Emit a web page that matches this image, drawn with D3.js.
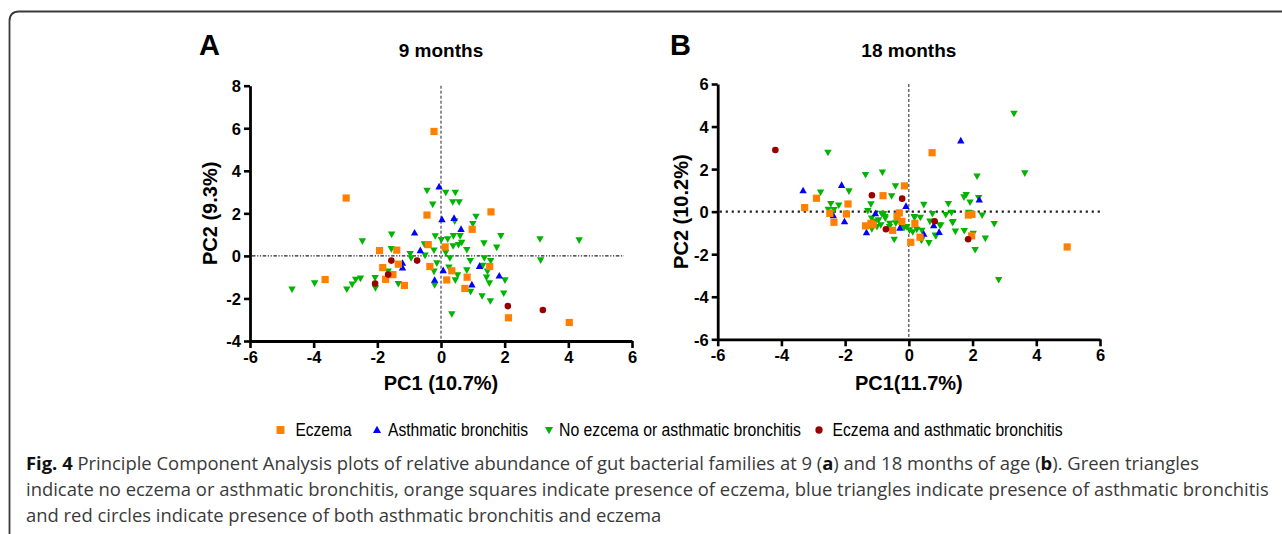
<!DOCTYPE html>
<html><head><meta charset="utf-8">
<script src="https://cdn.jsdelivr.net/npm/d3@7"></script>
<style>
html,body{margin:0;padding:0;background:#fff;}
svg{display:block;}
</style></head>
<body>
<svg id="chart" width="1282" height="534"></svg>
<script>
// ---------- DATA ----------
const seriesNames = ["Eczema", "Asthmatic bronchitis", "No ezcema or asthmatic bronchitis", "Eczema and asthmatic bronchitis"];
const xTicks = [-6, -4, -2, 0, 2, 4, 6];
const yTicksA = [-4, -2, 0, 2, 4, 6, 8];
const yTicksB = [-6, -4, -2, 0, 2, 4, 6];

// Panel A: 9 months  [PC1, PC2]
const eczema9 = [[-0.22,5.85],[-2.98,2.72],[-0.44,1.92],[1.57,2.07],[0.98,1.25],[-0.40,0.53],[0.13,0.42],[-1.93,0.25],[-1.39,0.27],[-1.83,-0.55],[-1.34,-0.39],[-0.35,-0.50],[1.53,-0.50],[0.34,-0.70],[-1.51,-0.88],[-1.74,-1.10],[-3.64,-1.11],[-1.15,-1.39],[0.18,-1.13],[0.82,-1.00],[0.75,-1.53],[2.12,-2.91],[4.03,-3.13]];
const asthma9 = [[-0.06,3.25],[0.03,1.71],[0.41,1.77],[0.63,1.25],[-0.83,1.08],[-0.65,0.25],[-1.21,-0.34],[-1.21,-0.56],[0.07,-0.69],[-0.20,-1.14],[1.21,-0.49],[1.83,-0.94],[0.97,-1.36]];
const none9 = [[-0.44,3.08],[0.15,2.99],[0.45,2.99],[0.37,2.54],[0.57,2.54],[-0.26,2.43],[0.43,1.64],[1.10,1.86],[1.00,1.52],[-1.55,1.02],[-2.47,0.70],[-0.18,0.94],[0.01,0.77],[0.21,0.80],[0.39,0.95],[0.60,0.95],[0.65,0.64],[0.55,0.53],[0.38,0.47],[1.35,0.61],[1.88,0.95],[1.75,0.41],[0.81,0.30],[3.11,0.80],[4.34,0.75],[-1.56,0.34],[-0.97,0.11],[-0.94,-0.09],[-0.50,0.03],[-0.22,0.27],[-0.52,0.56],[0.15,0.17],[0.28,-0.09],[-0.13,-0.33],[0.92,-0.22],[1.36,-0.09],[1.56,-0.22],[3.13,-0.19],[0.25,-0.53],[0.81,-0.66],[1.31,-0.45],[1.46,-0.72],[-1.66,-0.72],[-0.22,-0.72],[0.52,-0.89],[0.45,-1.13],[1.43,-1.00],[1.52,-1.27],[2.01,-1.13],[-2.07,-1.02],[-2.53,-1.05],[-2.68,-1.10],[-2.79,-1.33],[-2.96,-1.56],[-3.97,-1.27],[-4.68,-1.56],[-2.06,-1.50],[-1.34,-1.30],[-0.20,-1.36],[0.93,-1.67],[1.29,-1.88],[1.55,-2.11],[1.97,-1.75],[0.34,-2.72]];
const both9 = [[-1.56,-0.22],[-0.75,-0.22],[-1.66,-0.88],[-2.07,-1.30],[2.10,-2.36],[3.20,-2.54]];

// Panel B: 18 months  [PC1, PC2]
const eczema18 = [[-3.27,0.19],[-2.90,0.63],[-2.48,-0.08],[-2.35,-0.50],[-1.91,0.36],[-1.96,-0.11],[-0.81,0.75],[-0.14,1.21],[-1.36,-0.67],[-1.19,-0.55],[-1.12,-0.62],[-0.51,-0.88],[-0.30,-0.06],[-0.37,-0.23],[-0.22,-0.46],[0.06,-1.44],[0.19,-0.55],[0.35,-1.20],[0.73,2.77],[1.87,-0.16],[1.98,-0.13],[1.97,-1.14],[4.97,-1.66]];
const asthma18 = [[-3.32,0.99],[-2.11,1.24],[-2.37,-0.19],[-2.02,-0.47],[-1.33,-0.99],[-1.05,-0.09],[-0.09,0.25],[-0.28,-0.77],[0.47,-1.06],[0.78,-0.66],[0.95,-0.97],[1.63,3.33],[2.21,0.55]];
const none18 = [[-2.54,2.79],[-1.36,1.74],[-0.83,1.86],[-0.42,1.21],[-0.54,0.74],[-2.77,0.92],[-1.88,0.97],[-2.45,0.38],[-2.20,0.31],[-2.35,0.09],[-2.53,0.11],[-1.19,0.36],[-1.29,0.05],[-1.17,-0.30],[-0.95,-0.39],[-0.79,-0.09],[-0.74,-0.30],[-1.00,-0.70],[-1.16,-0.81],[-0.61,-0.70],[-0.46,-1.30],[-0.41,-0.53],[-0.07,-0.70],[0.02,-0.86],[0.18,-0.27],[0.36,-0.27],[0.47,0.34],[0.25,-0.83],[0.41,-0.88],[0.38,-1.30],[0.63,-1.46],[0.66,-0.45],[0.74,-0.09],[0.83,-1.10],[1.00,-0.63],[1.16,-0.14],[1.24,0.38],[1.34,-0.03],[1.37,-0.50],[1.46,-0.92],[1.73,0.69],[1.80,0.80],[1.92,0.45],[1.88,-0.03],[1.74,-0.89],[2.02,-1.02],[2.08,-1.78],[2.14,1.67],[2.19,0.66],[2.30,-0.16],[2.40,-1.25],[2.68,-0.56],[2.82,-3.19],[3.30,4.62],[3.64,1.82],[-1.05,-0.45],[-0.88,-0.62],[-0.60,-0.55],[-0.25,-0.55],[-0.15,-0.75],[0.12,-0.95],[-0.86,-0.08],[-0.75,-0.23],[0.17,-0.23],[0.85,-1.14],[0.40,-1.33],[1.39,-0.47],[0.97,-0.62]];
const both18 = [[-4.19,2.90],[-1.16,0.77],[-0.21,0.61],[-0.72,-0.83],[0.81,-0.45],[1.86,-1.30]];

// ---------- STYLE / LAYOUT ----------
const colors = {eczema:"#ff8000", asthma:"#0000ff", none:"#00b400", both:"#990000"};
const svg = d3.select("#chart");
const BOLD = "'Liberation Sans', Arial, sans-serif";

// frame
svg.append("path")
  .attr("d", "M9.5,534 V21 Q9.5,11.5 19,11.5 H1282")
  .attr("fill","none").attr("stroke","#3a3a3a").attr("stroke-width",1.8);

const panels = [
  {letter:"A", title:"9 months", xlab:"PC1 (10.7%)", ylab:"PC2 (9.3%)",
   left:250, right:632, top:85.7, bottom:341, ydom:[-4,8], yticks:yTicksA,
   hStyle:{dash:"3.5,1.6,1.2,1.6,1.2,1.6", w:1.1}, hRight:624,
   data:{eczema:eczema9, asthma:asthma9, none:none9, both:both9},
   letterX:199, ylabX:217},
  {letter:"B", title:"18 months", xlab:"PC1(11.7%)", ylab:"PC2 (10.2%)",
   left:717.7, right:1100, top:84, bottom:339.3, ydom:[-6,6], yticks:yTicksB,
   hStyle:{dash:"2.2,3.8", w:2.3}, hRight:1100,
   data:{eczema:eczema18, asthma:asthma18, none:none18, both:both18},
   letterX:670, ylabX:688}
];

function triPath(up, w, h){
  return up ? `M0,${-h*0.6}L${w/2},${h*0.4}L${-w/2},${h*0.4}Z`
            : `M0,${h*0.6}L${w/2},${-h*0.4}L${-w/2},${-h*0.4}Z`;
}
function drawMarker(g, type, x, y, scale){
  const s = scale || 1;
  if(type==="eczema"){
    g.append("rect").attr("x",x-3.6*s).attr("y",y-3.6*s).attr("width",7.2*s).attr("height",7.2*s).attr("fill",colors.eczema);
  } else if(type==="asthma"){
    g.append("path").attr("d",triPath(true,7.4*s,6.6*s)).attr("transform",`translate(${x},${y})`).attr("fill",colors.asthma);
  } else if(type==="none"){
    g.append("path").attr("d",triPath(false,7.4*s,6.6*s)).attr("transform",`translate(${x},${y})`).attr("fill",colors.none);
  } else {
    g.append("circle").attr("cx",x).attr("cy",y).attr("r",3.3*s).attr("fill",colors.both);
  }
}

panels.forEach(p=>{
  const x = d3.scaleLinear().domain([-6,6]).range([p.left,p.right]);
  const y = d3.scaleLinear().domain(p.ydom).range([p.bottom,p.top]);
  const g = svg.append("g");

  // reference lines
  g.append("line").attr("x1",x(0)).attr("x2",x(0)).attr("y1",y(p.ydom[1])).attr("y2",p.bottom)
    .attr("stroke","#222").attr("stroke-width",1).attr("stroke-dasharray","3,2");
  g.append("line").attr("x1",p.left+2).attr("x2",p.hRight).attr("y1",y(0)).attr("y2",y(0))
    .attr("stroke","#222").attr("stroke-width",p.hStyle.w).attr("stroke-dasharray",p.hStyle.dash);

  // points
  const order = ["none","asthma","eczema","both"];
  const pg = g.append("g");
  order.forEach(k=>{
    p.data[k].forEach(d=> drawMarker(pg, k, x(d[0]), y(d[1])));
  });

  // axes
  const fmt = d => String(d);
  const xa = g.append("g").attr("transform",`translate(0,${p.bottom})`)
    .call(d3.axisBottom(x).tickValues(xTicks).tickFormat(fmt).tickSize(7).tickSizeOuter(0).tickPadding(3));
  const ya = g.append("g").attr("transform",`translate(${p.left},0)`)
    .call(d3.axisLeft(y).tickValues(p.yticks).tickFormat(fmt).tickSize(6).tickSizeOuter(0).tickPadding(3));
  [xa,ya].forEach(a=>{
    a.select(".domain").attr("stroke","#000").attr("stroke-width",2.8);
    a.selectAll(".tick line").attr("stroke","#000").attr("stroke-width",2.6);
    a.selectAll(".tick text").attr("fill","#000").style("font-family",BOLD).style("font-weight","bold").style("font-size","16.5px");
  });
  ya.selectAll(".tick text").attr("dy","0.36em");

  // texts
  g.append("text").attr("x",p.letterX).attr("y",55).text(p.letter)
    .style("font-family",BOLD).style("font-weight","bold").style("font-size","29px");
  g.append("text").attr("x",(p.left+p.right)/2).attr("y",57).attr("text-anchor","middle").text(p.title)
    .style("font-family",BOLD).style("font-weight","bold").style("font-size","19px");
  g.append("text").attr("x",(p.left+p.right)/2).attr("y",390).attr("text-anchor","middle").text(p.xlab)
    .style("font-family",BOLD).style("font-weight","bold").style("font-size","20px");
  g.append("text").attr("transform",`translate(${p.ylabX},${(p.top+p.bottom)/2}) rotate(-90)`).attr("text-anchor","middle").text(p.ylab)
    .style("font-family",BOLD).style("font-weight","bold").style("font-size","20px");
});

// legend
const legendItems = [
  {k:"eczema", mx:280.5, tx:295.5, w:56},
  {k:"asthma", mx:377, tx:388, w:140},
  {k:"none", mx:549, tx:559, w:242},
  {k:"both", mx:819, tx:832.5, w:230}
];
const lg = svg.append("g");
legendItems.forEach((it,i)=>{
  drawMarker(lg, it.k, it.mx, 430, 1.1);
  lg.append("text").attr("x",it.tx).attr("y",435.5).text(seriesNames[i])
    .attr("textLength",it.w).attr("lengthAdjust","spacingAndGlyphs")
    .style("font-family","'Liberation Sans Narrow','Liberation Sans',Arial,sans-serif").style("font-size","17.5px").attr("fill","#000");
});

// caption
const capLines = [
  [["Fig. 4",true],[" Principle Component Analysis plots of relative abundance of gut bacterial families at 9 (",false],["a",true],[") and 18 months of age (",false],["b",true],["). Green triangles",false]],
  [["indicate no eczema or asthmatic bronchitis, orange squares indicate presence of eczema, blue triangles indicate presence of asthmatic bronchitis",false]],
  [["and red circles indicate presence of both asthmatic bronchitis and eczema",false]]
];
const capX = 26, capW = 1244;
const capG = svg.append("g").style("font-family","'Open Sans',sans-serif").style("font-size","16px");
const capTexts = capLines.map((line,i)=>{
  const t = capG.append("text").attr("x",capX).attr("y",470+i*26).attr("fill","#3a3a3a");
  line.forEach(([s,b])=>{
    t.append("tspan").text(s).style("font-weight",b?"bold":"normal").attr("fill",b?"#111":"#3a3a3a");
  });
  return t;
});
// fit caption font size to the measured width of line 2
const w2 = capTexts[1].node().getComputedTextLength();
const fs = 16*capW/w2;
capG.style("font-size",fs+"px");
</script>
</body></html>
